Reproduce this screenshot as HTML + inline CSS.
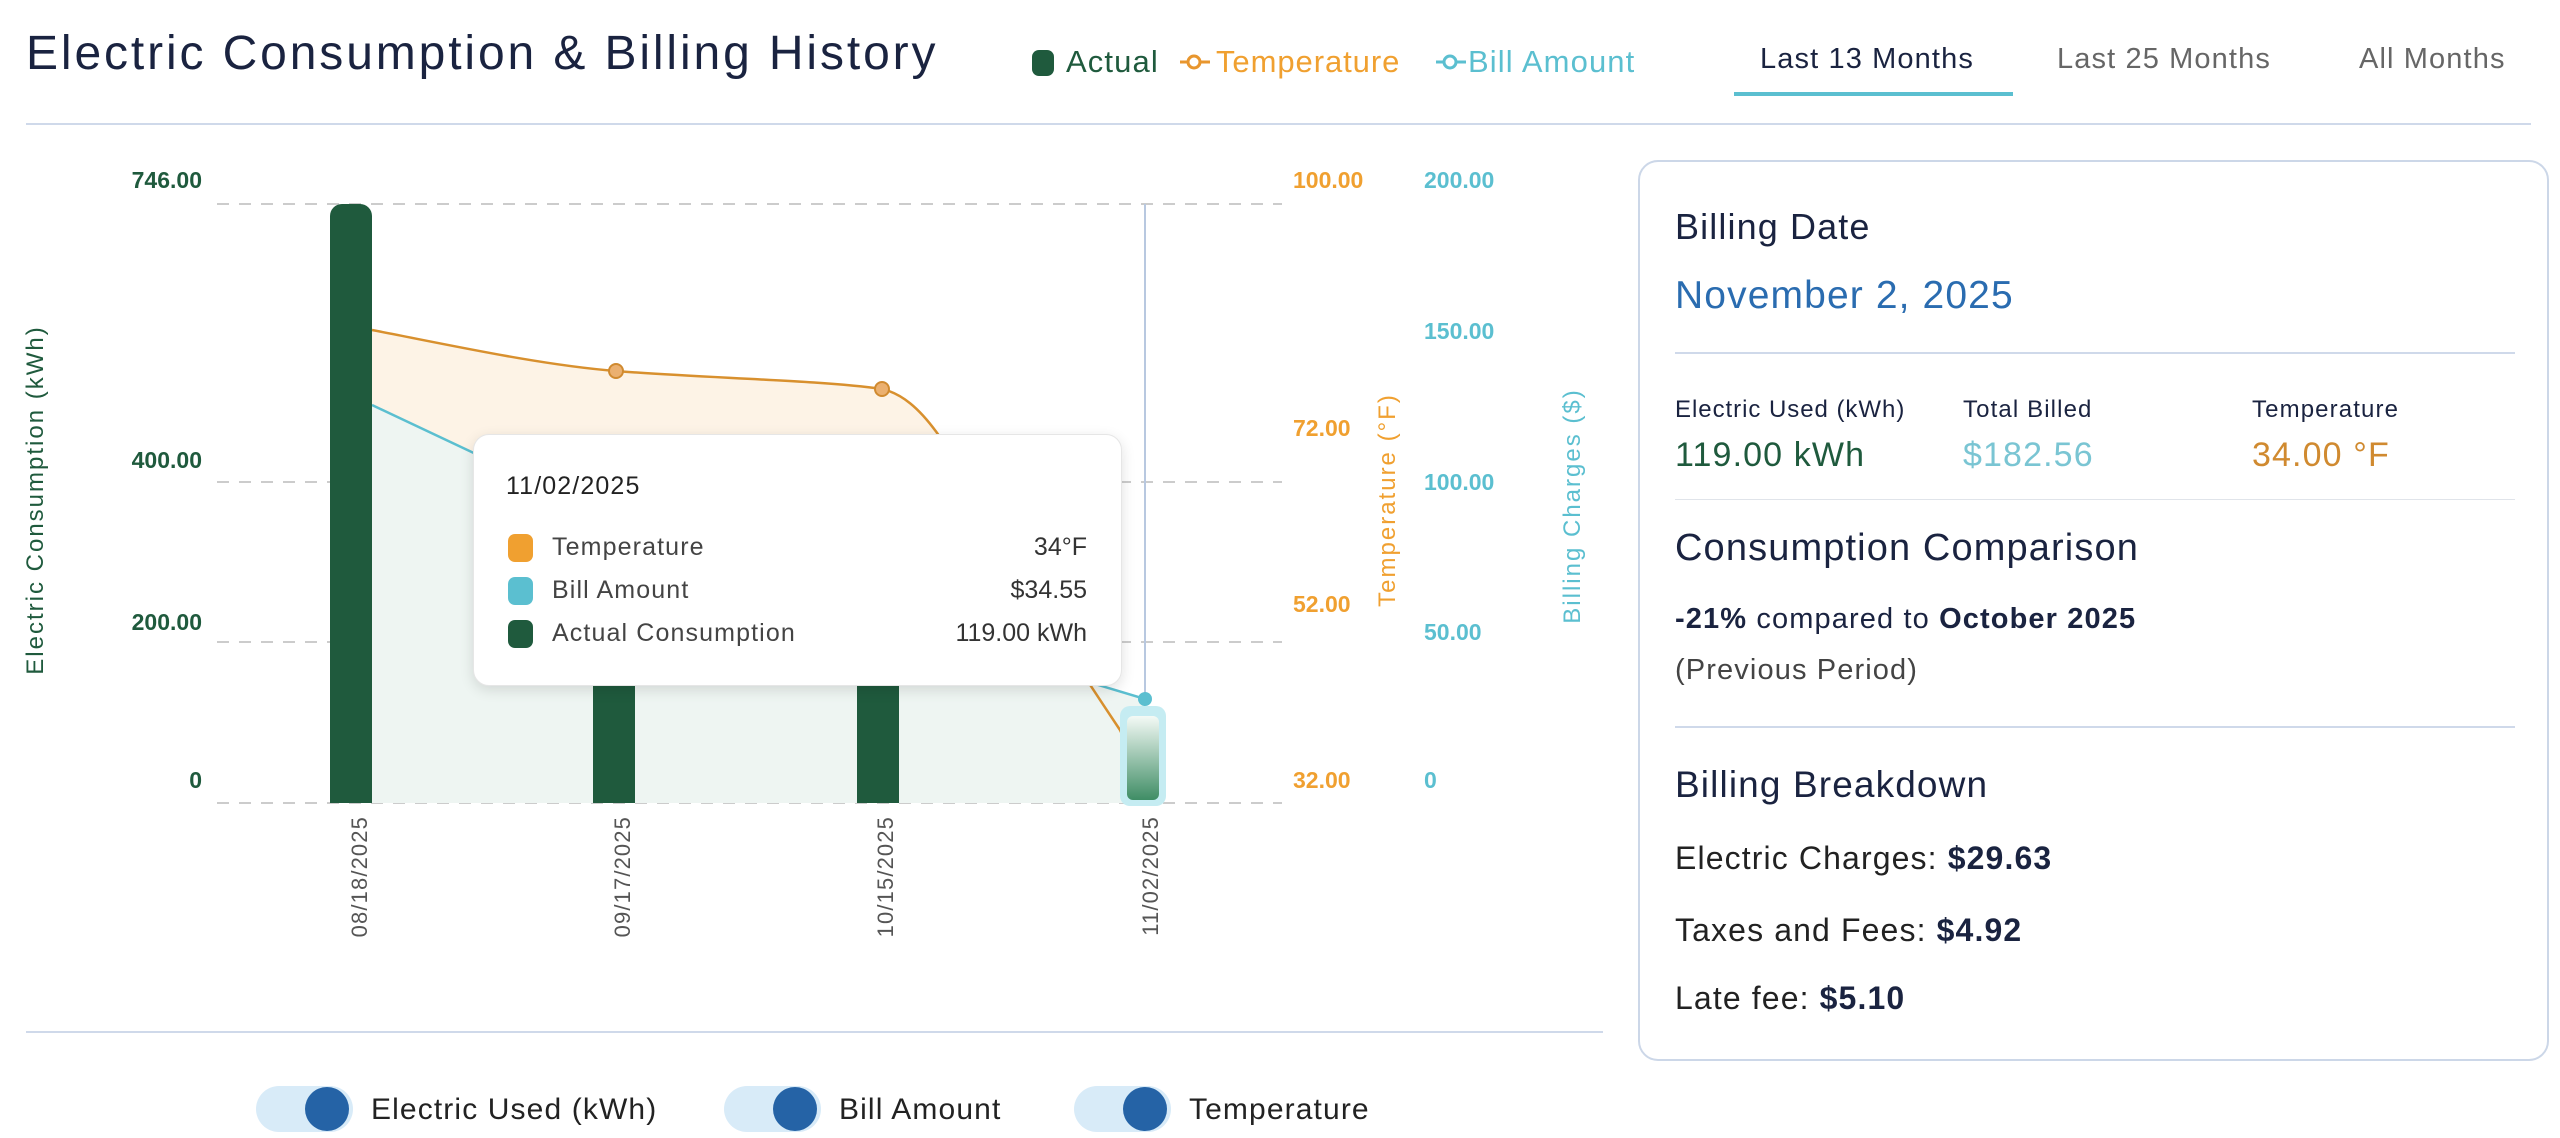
<!DOCTYPE html>
<html><head><meta charset="utf-8"><style>
*{margin:0;padding:0;box-sizing:border-box}
body{width:2560px;height:1138px;background:#fff;font-family:"Liberation Sans",sans-serif;position:relative;overflow:hidden;color:#1a2340;letter-spacing:0.07em}
.a{position:absolute;white-space:nowrap}
.rot{position:absolute;transform:translate(-50%,-50%) rotate(-90deg);white-space:nowrap}
.pill{position:absolute;width:97px;height:46px;border-radius:23px;background:#d8ebf8}
.knob{position:absolute;width:44px;height:44px;border-radius:50%;background:#2563a6;top:1px;right:4px}
</style></head><body>
<div class="a" style="left:26px;top:26px;font-size:48px;color:#1a2340;letter-spacing:0.06em">Electric Consumption &amp; Billing History</div>
<div class="a" style="left:1032px;top:50px;width:22px;height:26px;border-radius:7px;background:#1f5a3d"></div>
<div class="a" style="left:1066px;top:44px;font-size:31px;color:#1f5a3d">Actual</div>
<svg class="a" style="left:1180px;top:52px" width="30" height="20"><line x1="0" y1="10" x2="30" y2="10" stroke="#e8962e" stroke-width="3"/><circle cx="14" cy="10" r="6" fill="#fff" stroke="#e8962e" stroke-width="3"/></svg>
<div class="a" style="left:1216px;top:44px;font-size:31px;color:#f0a030;letter-spacing:0.03em">Temperature</div>
<svg class="a" style="left:1436px;top:52px" width="30" height="20"><line x1="0" y1="10" x2="30" y2="10" stroke="#5bbfd0" stroke-width="3"/><circle cx="14" cy="10" r="6" fill="#fff" stroke="#5bbfd0" stroke-width="3"/></svg>
<div class="a" style="left:1468px;top:44px;font-size:31px;color:#5bbfd0">Bill Amount</div>
<div class="a" style="left:1760px;top:43px;font-size:29px;color:#1a2340">Last 13 Months</div>
<div class="a" style="left:1734px;top:92px;width:279px;height:4px;background:#5bbfd0"></div>
<div class="a" style="left:2057px;top:43px;font-size:29px;color:#666">Last 25 Months</div>
<div class="a" style="left:2359px;top:43px;font-size:29px;color:#666">All Months</div>
<div class="a" style="left:26px;top:123px;width:2505px;height:2px;background:#cfd9ea"></div>

<svg class="a" style="left:0;top:0" width="1620" height="1000">
<g stroke="#ccc" stroke-width="2" stroke-dasharray="12,10">
<line x1="217" y1="204" x2="1282" y2="204"/><line x1="217" y1="482" x2="1282" y2="482"/>
<line x1="217" y1="642" x2="1282" y2="642"/><line x1="217" y1="803" x2="1282" y2="803"/>
</g>
<line x1="1145" y1="204" x2="1145" y2="700" stroke="#b8c8e0" stroke-width="2"/>
<path d="M372,330 C450,345 540,365 616,371 C700,378 820,380 882,389 C930,400 960,470 1010,560 C1060,640 1100,700 1120,730 L1145,785 L1145,803 L372,803Z" fill="#fdf3e6"/>
<path d="M372,405 L616,520 L882,620 L1145,699 L1145,803 L372,803Z" fill="#eef5f2"/>
<path d="M372,330 C450,345 540,365 616,371 C700,378 820,380 882,389 C930,400 960,470 1010,560 C1060,640 1100,700 1120,730 L1145,785" fill="none" stroke="#d8902e" stroke-width="2.5"/>
<path d="M372,405 L616,520 L882,620 L1145,699" fill="none" stroke="#5bbfd0" stroke-width="2.5"/>
<circle cx="616" cy="371" r="7" fill="#ebb070" stroke="#d08a30" stroke-width="2"/>
<circle cx="882" cy="389" r="7" fill="#ebb070" stroke="#d08a30" stroke-width="2"/>
<path d="M330,803 V216 a12,12 0 0 1 12,-12 h18 a12,12 0 0 1 12,12 V803Z" fill="#1f5a3d"/>
<path d="M593,803 V520 a12,12 0 0 1 12,-12 h18 a12,12 0 0 1 12,12 V803Z" fill="#1f5a3d"/>
<path d="M857,803 V560 a12,12 0 0 1 12,-12 h18 a12,12 0 0 1 12,12 V803Z" fill="#1f5a3d"/>
<defs><linearGradient id="g" x1="0" y1="0" x2="0" y2="1"><stop offset="0" stop-color="#f4faf6"/><stop offset="1" stop-color="#3f8d65"/></linearGradient></defs>
<rect x="1120" y="706" width="46" height="100" rx="10" fill="#c5ecf2"/>
<rect x="1127" y="716" width="32" height="84" rx="6" fill="url(#g)"/>
<circle cx="1145" cy="699" r="7" fill="#5bbfd0"/>
<g font-size="23" font-weight="bold" fill="#1f5a3d" text-anchor="end" letter-spacing="0">
<text x="202" y="188">746.00</text><text x="202" y="468">400.00</text><text x="202" y="630">200.00</text><text x="202" y="788">0</text></g>
<g font-size="23" font-weight="bold" fill="#f0a030" letter-spacing="0">
<text x="1293" y="188">100.00</text><text x="1293" y="436">72.00</text><text x="1293" y="612">52.00</text><text x="1293" y="788">32.00</text></g>
<g font-size="23" font-weight="bold" fill="#5bbfd0" letter-spacing="0">
<text x="1424" y="188">200.00</text><text x="1424" y="339">150.00</text><text x="1424" y="490">100.00</text><text x="1424" y="640">50.00</text><text x="1424" y="788">0</text></g>
<g font-size="22" fill="#555" text-anchor="end">
<text transform="translate(367,816) rotate(-90)">08/18/2025</text>
<text transform="translate(630,816) rotate(-90)">09/17/2025</text>
<text transform="translate(893,816) rotate(-90)">10/15/2025</text>
<text transform="translate(1158,816) rotate(-90)">11/02/2025</text></g>
</svg>
<div class="rot" style="left:36px;top:500px;font-size:24px;color:#1f5a3d;letter-spacing:2px">Electric Consumption (kWh)</div>
<div class="rot" style="left:1388px;top:500px;font-size:24px;color:#f0a030;letter-spacing:2px">Temperature (°F)</div>
<div class="rot" style="left:1573px;top:506px;font-size:24px;color:#5bbfd0;letter-spacing:2px">Billing Charges ($)</div>

<div class="a" style="left:473px;top:434px;width:649px;height:252px;background:#fff;border-radius:16px;border:1px solid #e6e6e6;box-shadow:0 4px 14px rgba(0,0,0,0.12)"></div>
<div class="a" style="left:506px;top:472px;font-size:25px;color:#222">11/02/2025</div>
<div class="a" style="left:508px;top:534px;width:25px;height:28px;border-radius:7px;background:#f0a030"></div>
<div class="a" style="left:508px;top:577px;width:25px;height:28px;border-radius:7px;background:#5bbfd0"></div>
<div class="a" style="left:508px;top:620px;width:25px;height:28px;border-radius:7px;background:#1f5a3d"></div>
<div class="a" style="left:552px;top:533px;font-size:25px;color:#444">Temperature</div>
<div class="a" style="left:552px;top:576px;font-size:25px;color:#444">Bill Amount</div>
<div class="a" style="left:552px;top:619px;font-size:25px;color:#444">Actual Consumption</div>
<div class="a" style="right:1473px;top:533px;font-size:25px;color:#333;letter-spacing:0">34°F</div>
<div class="a" style="right:1473px;top:576px;font-size:25px;color:#333;letter-spacing:0">$34.55</div>
<div class="a" style="right:1473px;top:619px;font-size:25px;color:#333;letter-spacing:0">119.00 kWh</div>

<div class="a" style="left:26px;top:1031px;width:1577px;height:2px;background:#cfd9ea"></div>
<div class="pill" style="left:256px;top:1086px"><div class="knob"></div></div>
<div class="a" style="left:371px;top:1093px;font-size:30px;color:#222">Electric Used (kWh)</div>
<div class="pill" style="left:724px;top:1086px"><div class="knob"></div></div>
<div class="a" style="left:839px;top:1093px;font-size:30px;color:#222">Bill Amount</div>
<div class="pill" style="left:1074px;top:1086px"><div class="knob"></div></div>
<div class="a" style="left:1189px;top:1093px;font-size:30px;color:#222">Temperature</div>

<div class="a" style="left:1638px;top:160px;width:911px;height:901px;border:2px solid #ccd7e8;border-radius:20px"></div>
<div class="a" style="left:1675px;top:206px;font-size:36px;color:#1a2340">Billing Date</div>
<div class="a" style="left:1675px;top:274px;font-size:39px;color:#2a6cb0">November 2, 2025</div>
<div class="a" style="left:1675px;top:352px;width:840px;height:2px;background:#cfd9ea"></div>
<div class="a" style="left:1675px;top:396px;font-size:24px;color:#1a2340;letter-spacing:0.04em">Electric Used (kWh)</div>
<div class="a" style="left:1963px;top:396px;font-size:24px;color:#1a2340">Total Billed</div>
<div class="a" style="left:2252px;top:396px;font-size:24px;color:#1a2340">Temperature</div>
<div class="a" style="left:1675px;top:436px;font-size:34px;color:#1f5a3d">119.00 kWh</div>
<div class="a" style="left:1963px;top:436px;font-size:34px;color:#7ac5d3">$182.56</div>
<div class="a" style="left:2252px;top:436px;font-size:34px;color:#d08a30">34.00 °F</div>
<div class="a" style="left:1675px;top:499px;width:840px;height:1px;background:#e0e4ea"></div>
<div class="a" style="left:1675px;top:527px;font-size:38px;color:#1a2340">Consumption Comparison</div>
<div class="a" style="left:1675px;top:603px;font-size:29px;color:#1a2340"><b>-21%</b> compared to <b>October 2025</b></div>
<div class="a" style="left:1675px;top:654px;font-size:29px;color:#444">(Previous Period)</div>
<div class="a" style="left:1675px;top:726px;width:840px;height:2px;background:#cfd9ea"></div>
<div class="a" style="left:1675px;top:764px;font-size:37px;color:#1a2340">Billing Breakdown</div>
<div class="a" style="left:1675px;top:840px;font-size:32px;color:#222">Electric Charges: <b style="color:#1a2340">$29.63</b></div>
<div class="a" style="left:1675px;top:912px;font-size:32px;color:#222">Taxes and Fees: <b style="color:#1a2340">$4.92</b></div>
<div class="a" style="left:1675px;top:980px;font-size:32px;color:#222">Late fee: <b style="color:#1a2340">$5.10</b></div>
</body></html>
